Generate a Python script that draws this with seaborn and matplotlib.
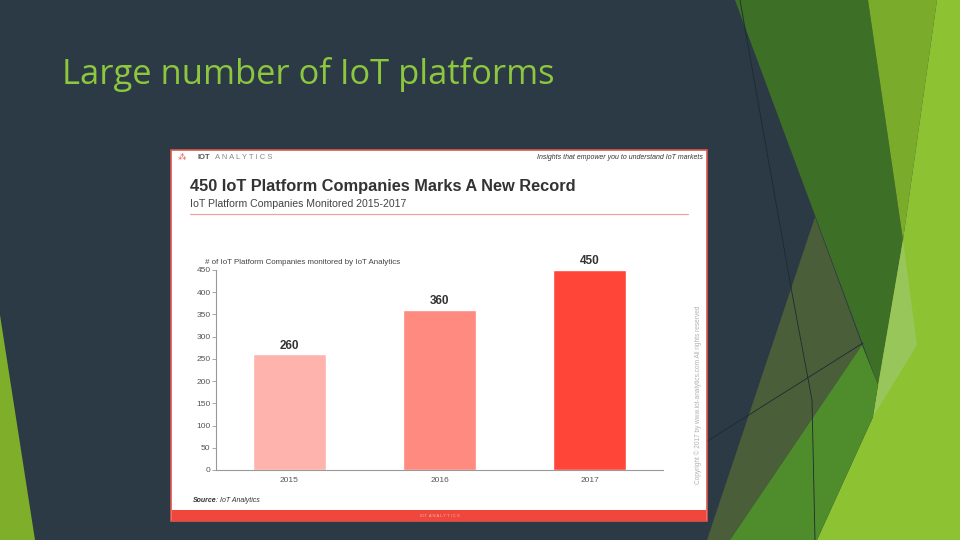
import matplotlib
matplotlib.use("Agg")
import matplotlib.pyplot as plt
from matplotlib.patches import Polygon, Rectangle
from matplotlib.lines import Line2D
import pandas as pd
import seaborn as sns

# data
years = ["2015", "2016", "2017"]
companies = [260, 360, 450]
bar_colors = ["#ffb3ad", "#ff8a80", "#ff4538"]
y_ticks = [0, 50, 100, 150, 200, 250, 300, 350, 400, 450]

slide_title = "Large number of IoT platforms"
chart_title = "450 IoT Platform Companies Marks A New Record"
chart_subtitle = "IoT Platform Companies Monitored 2015-2017"
y_caption = "# of IoT Platform Companies monitored by IoT Analytics"
tagline = "Insights that empower you to understand IoT markets"
copyright_note = "Copyright \u00a9 2017 by www.iot-analytics.com All rights reserved"

W, H = 960, 540
SLATE = "#2b3a44"


def fx(x):
    return x / W


def fy(y):
    return 1 - y / H


sns.set_theme(style="white")
plt.rcParams["font.family"] = ["Liberation Sans", "DejaVu Sans"]

fig = plt.figure(figsize=(9.6, 5.4), dpi=100, facecolor=SLATE)


def shape(points, color, z=-10):
    fig.add_artist(Polygon([(fx(x), fy(y)) for x, y in points], closed=True,
                           transform=fig.transFigure, facecolor=color,
                           edgecolor="none", zorder=z))


def line(points, color="#1e2a30", lw=0.6, z=-5):
    fig.add_artist(Line2D([fx(x) for x, _ in points], [fy(y) for _, y in points],
                          transform=fig.transFigure, color=color, lw=lw, zorder=z))


# slide decoration (facet theme triangles)
shape([(0, 315), (0, 540), (35, 540)], "#7fae2a")
shape([(735, 0), (868, 0), (903, 240), (878, 385)], "#3e6f27")
shape([(868, 0), (937, 0), (903, 240)], "#7aab2a")
shape([(937, 0), (960, 0), (960, 540), (817, 540), (873, 417), (878, 385), (903, 240)], "#8dc232")
shape([(903, 240), (917, 345), (873, 417)], "#98c65a")
shape([(815, 217), (862, 345), (730, 540), (707, 540)], "#4a5e3a")
shape([(730, 540), (862, 345), (878, 385), (873, 417), (817, 540)], "#4f8c2b")
line([(740, 0), (792, 293), (812, 400), (815, 540)])
line([(690, 452), (863, 343)])

fig.text(fx(62), fy(75), slide_title, color="#8dc63f", fontsize=24.8,
         family=["Open Sans", "DejaVu Sans"], va="center", ha="left")

# embedded chart card
fig.add_artist(Rectangle((fx(171), fy(521)), fx(536), 371 / H, transform=fig.transFigure,
                         facecolor="white", edgecolor="#e0564c", lw=1.2, zorder=-4))
fig.add_artist(Rectangle((fx(172), fy(521)), fx(534), 11 / H, transform=fig.transFigure,
                         facecolor="#f0473c", edgecolor="none", zorder=-3))
fig.add_artist(Line2D([fx(190), fx(688)], [fy(214), fy(214)], transform=fig.transFigure,
                      color="#f2a3a0", lw=0.9))

fig.text(fx(178), fy(158), "\u2042", color="#e0564c", fontsize=6,
         family=["DejaVu Sans"], va="center")
fig.text(fx(197), fy(158), "IOT", color="#555555", fontsize=5.5, weight="bold",
         va="center", ha="left")
fig.text(fx(215), fy(158), "A N A L Y T I C S", color="#888888", fontsize=5.5,
         va="center", ha="left")
fig.text(fx(703), fy(158), tagline, color="#333333", fontsize=5.0, style="italic",
         va="center", ha="right")
fig.text(fx(190), fy(187), chart_title, color="#333333", fontsize=11.8,
         weight="bold", va="center", ha="left")
fig.text(fx(190), fy(204), chart_subtitle, color="#444444", fontsize=7.6,
         va="center", ha="left")
fig.text(fx(205), fy(262), y_caption, color="#444444", fontsize=5.7,
         va="center", ha="left")
fig.text(fx(193), fy(500), "Source", color="#333333", fontsize=5, style="italic",
         weight="bold", va="center", ha="left")
fig.text(fx(216), fy(500), ": IoT Analytics", color="#333333", fontsize=5,
         style="italic", va="center", ha="left")
fig.text(fx(698), fy(395), copyright_note, color="#b0b0b0", fontsize=4.7,
         rotation=90, va="center", ha="center")
fig.text(fx(440), fy(516), "IOT  A N A L Y T I C S", color="#f7b0aa", fontsize=3,
         va="center", ha="center")

# bar chart
df = pd.DataFrame({"year": years, "companies": companies})
ax = fig.add_axes([fx(216), fy(470), (663 - 216) / W, 200 / H])
ax.set_facecolor("none")
sns.barplot(data=df, x="year", y="companies", hue="year", palette=bar_colors,
            width=0.49, legend=False, ax=ax, saturation=1)
for bars in ax.containers:
    ax.bar_label(bars, fmt="%d", padding=2, fontsize=8.5, weight="bold", color="#333333")

ax.set_xlim(-0.49, 2.49)
ax.set_ylim(0, 450)
ax.set_yticks(y_ticks)
ax.set_xlabel("")
ax.set_ylabel("")
ax.tick_params(axis="y", length=3, width=0.6, color="#999999", pad=1,
               labelsize=6, labelcolor="#555555", left=True)
ax.tick_params(axis="x", length=0, pad=5, labelsize=6, labelcolor="#555555")
for side in ["top", "right"]:
    ax.spines[side].set_visible(False)
for side in ["left", "bottom"]:
    ax.spines[side].set_color("#999999")
    ax.spines[side].set_linewidth(0.8)

fig.savefig("out.png", dpi=100, facecolor=SLATE)
